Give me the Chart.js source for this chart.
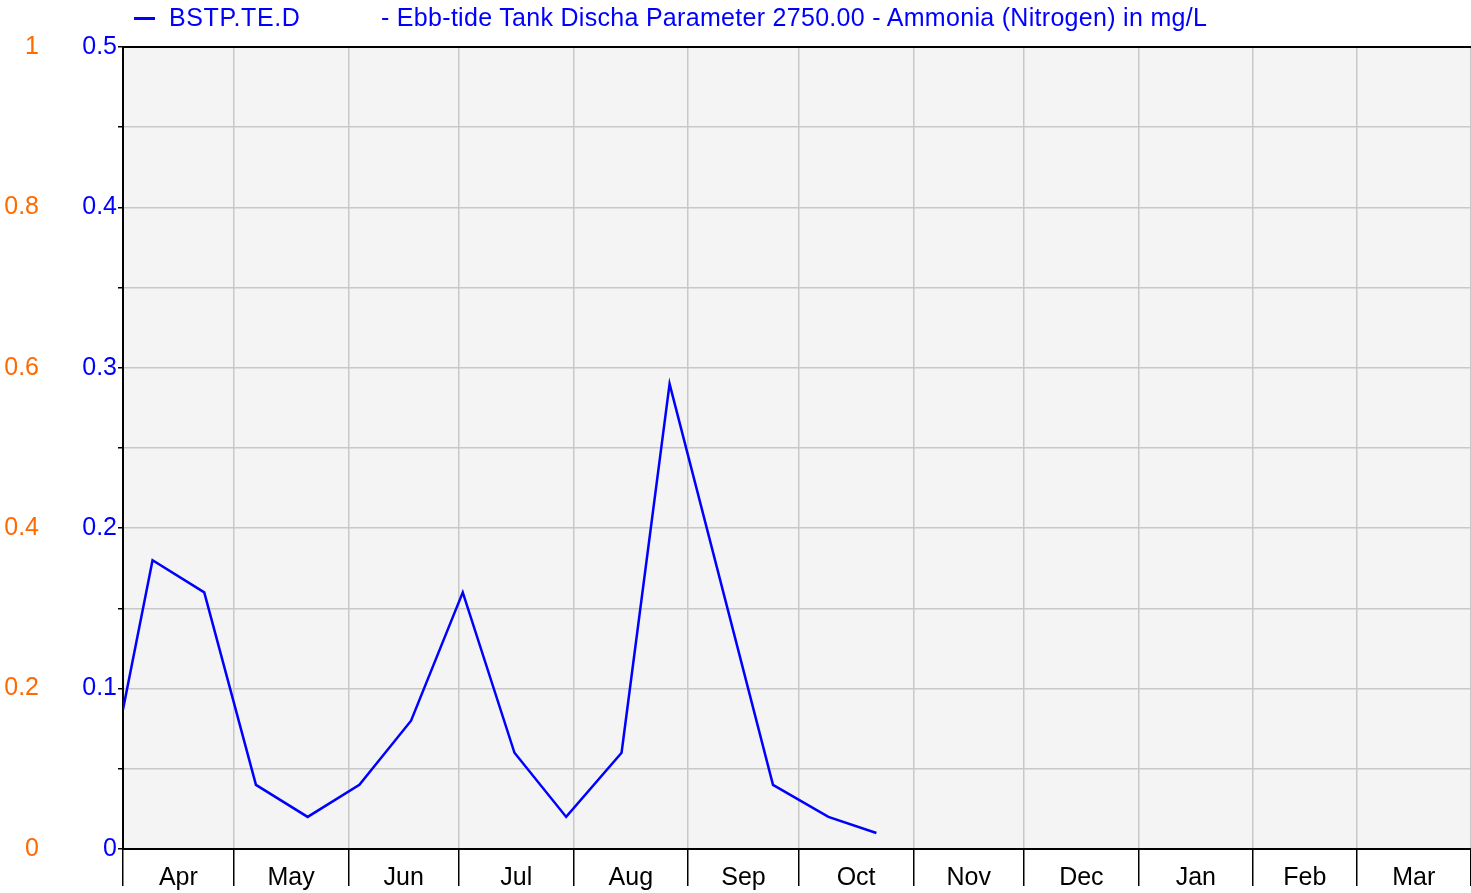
<!DOCTYPE html>
<html>
<head>
<meta charset="utf-8">
<script src="https://cdn.jsdelivr.net/npm/chart.js@4/dist/chart.umd.min.js"></script>
<style>
  body { margin: 0; background: #fff; }
  #wrap { position: relative; width: 1471px; height: 893px; }
  #legend { position: absolute; left: 0; top: 0; font: 25px "Liberation Sans", Arial, sans-serif; color: #0000ff; }
  #legend .swatch { position: absolute; left: 134px; top: 17px; width: 21px; height: 3px; background: #0000ff; }
  #legend .name { position: absolute; left: 169px; top: 3px; white-space: nowrap; letter-spacing: 0.6px; }
  #legend .desc { position: absolute; left: 381px; top: 3px; white-space: nowrap; letter-spacing: 0.3px; }
</style>
</head>
<body>
<div id="wrap">
  <canvas id="chart"></canvas>
  <div id="legend">
    <div class="swatch"></div>
    <div class="name">BSTP.TE.D</div>
    <div class="desc">- Ebb-tide Tank Discha Parameter 2750.00 - Ammonia (Nitrogen) in mg/L</div>
  </div>
</div>
<script>
// months of the year, starting in April (day 0 = 1 Apr)
const monthLabels = ["Apr", "May", "Jun", "Jul", "Aug", "Sep", "Oct", "Nov", "Dec", "Jan", "Feb", "Mar"];
const monthStartDays = [0, 30, 61, 91, 122, 153, 183, 214, 244, 275, 306, 334, 365];

// samples: day since 1 Apr and ammonia in mg/L
const sampleDays = [0, 8, 22, 36, 50, 64, 78, 92, 106, 120, 135, 148, 176, 191, 204];
const ammoniaValues = [0.087, 0.18, 0.16, 0.04, 0.02, 0.04, 0.08, 0.16, 0.06, 0.02, 0.06, 0.29, 0.04, 0.02, 0.01];

const monthMidDays = monthLabels.map((m, i) => (monthStartDays[i] + monthStartDays[i + 1]) / 2);

const FONT = "'Liberation Sans', Arial, sans-serif";

// light grey plot background + black top border
const plotFrame = {
  id: "plotFrame",
  beforeDraw(chart) {
    const { ctx, chartArea: a } = chart;
    ctx.save();
    ctx.fillStyle = "#f4f4f4";
    ctx.fillRect(a.left, a.top, a.right - a.left, a.bottom - a.top);
    ctx.restore();
  },
  afterDraw(chart) {
    const { ctx, chartArea: a } = chart;
    ctx.save();
    ctx.strokeStyle = "#000";
    ctx.lineWidth = 2;
    ctx.beginPath();
    ctx.moveTo(a.left, a.top);
    ctx.lineTo(a.right, a.top);
    ctx.stroke();
    ctx.restore();
  }
};

new Chart("chart", {
  type: "line",
  data: {
    datasets: [{
      label: "BSTP.TE.D",
      data: sampleDays.map((d, i) => ({ x: d, y: ammoniaValues[i] })),
      borderColor: "#0000ff",
      borderWidth: 2.5,
      pointRadius: 0,
      tension: 0,
      fill: false,
      xAxisID: "x",
      yAxisID: "y"
    }]
  },
  options: {
    responsive: true,
    maintainAspectRatio: false,
    animation: false,
    layout: { padding: { top: 47, right: 0, left: 0, bottom: 0 } },
    plugins: { legend: { display: false }, tooltip: { enabled: false } },
    scales: {
      xGrid: {
        type: "linear",
        position: "bottom",
        weight: 0,
        min: 0,
        max: 365,
        afterBuildTicks: s => { s.ticks = monthStartDays.map(v => ({ value: v })); },
        afterFit: s => { s.height = 0; },
        ticks: { display: false },
        grid: { color: "#c8c8c8", lineWidth: 1.5, tickColor: "#000", tickWidth: 1.5, tickLength: 37 },
        border: { color: "#000", width: 2 }
      },
      x: {
        type: "linear",
        position: "bottom",
        weight: 1,
        min: 0,
        max: 365,
        afterBuildTicks: s => { s.ticks = monthMidDays.map(v => ({ value: v })); },
        afterFit: s => { s.height = 44; },
        ticks: {
          autoSkip: false,
          maxRotation: 0,
          padding: 14,
          color: "#000",
          font: { family: FONT, size: 25 },
          callback: (v, i) => monthLabels[i]
        },
        grid: { display: false, drawTicks: false },
        border: { display: false }
      },
      y: {
        position: "left",
        weight: 0,
        min: 0,
        max: 0.5,
        afterFit: s => { s.width = 78; },
        ticks: {
          stepSize: 0.05,
          padding: 1,
          color: "#0000ff",
          font: { family: FONT, size: 25 },
          callback: v => Math.abs(v * 10 - Math.round(v * 10)) < 1e-6 ? String(+v.toFixed(1)) : ""
        },
        grid: { color: "#c8c8c8", lineWidth: 1.5, tickColor: "#000", tickWidth: 1.5, tickLength: 5 },
        border: { color: "#000", width: 2 }
      },
      y2: {
        position: "left",
        weight: 1,
        min: 0,
        max: 1,
        afterFit: s => { s.width = 45; },
        ticks: {
          stepSize: 0.2,
          padding: 6,
          color: "#ff6a00",
          font: { family: FONT, size: 25 },
          callback: v => String(+v.toFixed(1))
        },
        grid: { display: false, drawTicks: false },
        border: { display: false }
      }
    }
  },
  plugins: [plotFrame]
});
</script>
</body>
</html>
